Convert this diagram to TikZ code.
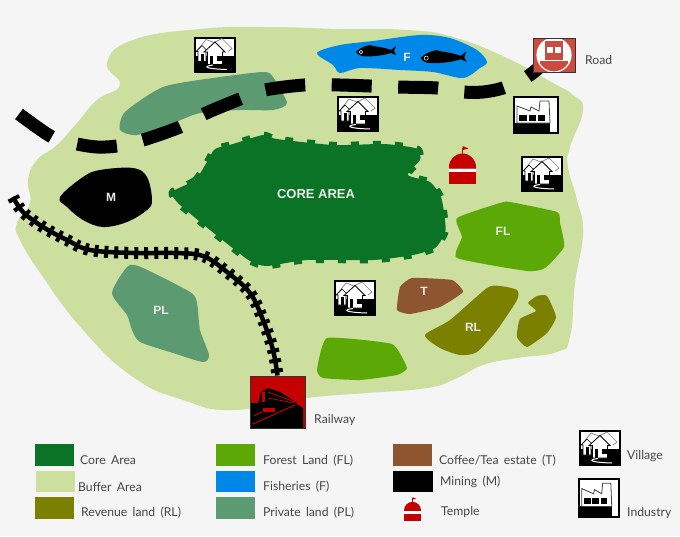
\documentclass[tikz,border=0pt]{standalone}
\usepackage{fontspec}
\setmainfont{Lato}[WordSpace=1.7]
\newfontfamily\mapfont{Liberation Sans}
\usepackage{tikz}
\usetikzlibrary{arrows.meta,positioning,shapes,calc}
\definecolor{paper}{RGB}{245,245,245}
\definecolor{corearea}{RGB}{11,115,37}
\definecolor{bufferarea}{RGB}{204,223,158}
\definecolor{privateland}{RGB}{92,155,113}
\definecolor{revenueland}{RGB}{124,128,0}
\definecolor{forestland}{RGB}{92,168,6}
\definecolor{fisheries}{RGB}{0,136,232}
\definecolor{teaestate}{RGB}{141,85,48}
\definecolor{templered}{RGB}{196,0,0}
\definecolor{busred}{RGB}{204,74,64}
\definecolor{legendtext}{RGB}{70,70,70}
\tikzset{
  villageicon/.pic={
    \fill[black] (-21,-18) rectangle (21,18);
    \fill[white] (-19,-16) rectangle (19,1);
    \draw[gray,line width=.7pt] (-17,-5) -- (-9,-15) -- (-1,-12) -- (7,-16) -- (17,-6) -- (13,-3);
    \filldraw[white,draw=black,line width=.7pt] (-19,-3) -- (-13,-9) -- (-7,-3) -- (-9,-3) -- (-9,7) -- (-17,7) -- (-17,-3) -- cycle;
    \fill[black] (-14.5,-1) rectangle (-11.5,7);
    \filldraw[white,draw=black,line width=.8pt] (-11,-2.5) -- (0,-12.5) -- (10,-2.5) -- (7.5,-2.5) -- (7.5,10) -- (-7.5,10) -- (-7.5,-2.5) -- cycle;
    \fill[black] (2,1) rectangle (6.5,6);
    \fill[black] (-5,1) rectangle (-2,10);
    \draw[white,line width=1pt] (-2,10.5) .. controls (-14,12) and (-8,14.5) .. (12,15);
  },
  industryicon/.pic={
    \fill[black] (-23,-19) rectangle (23,19);
    \fill[white] (-21,-17) rectangle (21,17);
    \fill[black] (-21,8) rectangle (14,17);
    \filldraw[white,draw=black!75,line width=.8pt] (-19,8) -- (-19,-9) -- (-6,-4) -- (-5,-8) -- (3,-4) -- (4,-14) -- (13,-14) -- (14,8) -- cycle;
    \fill[black] (-16.6,0) rectangle (-9,6);
    \fill[black] (-7.3,0) rectangle (0,6);
    \fill[black] (1.7,0) rectangle (9,6);
  },
  templeicon/.pic={
    \draw[templered,line width=1pt] (0,-12) -- (0,-20);
    \fill[templered] (0,-22) -- (6,-19.5) -- (0,-18) -- cycle;
    \fill[templered] (-13.5,0.5) -- (-13.5,-1) arc[start angle=180,end angle=360,x radius=13.5,y radius=13.5] -- (13.5,.5) -- cycle;
    \fill[white!85!paper] (-13.5,.5) rectangle (13.5,4);
    \fill[templered] (-13.5,4) rectangle (13.5,16);
  },
  fishicon/.pic={
    \fill[black] (-20,1) .. controls (-14,-5) and (-9,-5) .. (-6,-6) -- (-3,-5) .. controls (4,-4) and (10,-3) .. (15,-1) -- (20,-5) -- (18,0) -- (20,4) -- (15,2) .. controls (6,5) and (-8,6) .. (-14,5) .. controls (-17,4) and (-19,3) .. (-20,1) -- cycle;
    \draw[white,line width=.5pt] (-15,1) circle[radius=1.8];
  }
}
\begin{document}
\begin{tikzpicture}[x=1pt,y=-1pt,
    maparea/.style={line join=round},
    arealabel/.style={font=\mapfont\bfseries\fontsize{12}{14}\selectfont, text=white!92!black, inner sep=0pt},
    legendlabel/.style={anchor=west, font=\fontsize{12.2}{14}\selectfont, text=legendtext, inner sep=0pt},
    iconbox/.style={rectangle, draw=black!80, line width=1pt, inner sep=0pt},
    roadline/.style={line width=13pt, black, dash pattern=on 40pt off 26.5pt},
    railtrack/.style={black, line width=4.5pt, postaction={draw, line width=12pt, dash pattern=on 4pt off 6pt}}
  ]
  \useasboundingbox (0,0) rectangle (680,536);
  \fill[paper] (0,0) rectangle (680,536);

  % map areas
  \fill[bufferarea,maparea] plot[smooth cycle,tension=.8] coordinates {
    (107,63) (133,40) (200,29) (267,27) (340,29) (407,30) (453,37) (507,58) (553,83)
    (573,95) (583,110) (570,147) (568,167) (577,200) (583,233) (575,283) (570,337)
    (557,352) (517,358) (483,365) (457,378) (427,388) (367,393) (307,398) (233,410) (183,400)
    (133,377) (83,330) (43,277) (20,240) (17,223) (30,203) (28,180) (37,160) (57,145) (77,123)
    (97,100) (120,85)};
  \fill[privateland,maparea] plot[smooth cycle,tension=.4] coordinates {
    (120,130) (125,112) (163,87) (213,78) (263,72) (273,77) (287,103) (273,110) (240,110)
    (200,113) (173,123) (137,135)};
  \fill[black,maparea] plot[smooth cycle,tension=.6] coordinates {
    (60,197) (83,177) (100,170) (133,168) (147,177) (152,200) (147,210) (127,222) (103,227)
    (83,220) (67,207)};
  \fill[fisheries,maparea] plot[smooth cycle,tension=.5] coordinates {
    (317,53) (340,45) (373,41) (420,35) (450,38) (477,50) (487,62) (480,68) (463,78) (433,72)
    (400,70) (360,68) (340,73) (333,65)};
  \filldraw[corearea,line width=6.5pt,dash pattern=on 8pt off 14pt,maparea] plot[smooth cycle,tension=.4] coordinates {
    (172,192) (195,180) (207,162) (215,149) (233,144) (263,135) (277,139) (333,145) (383,144)
    (410,147) (419,150) (420,160) (408,175) (430,182) (441,197) (445,220) (445,233) (435,248)
    (413,255) (373,260) (307,260) (267,266) (250,261) (230,246) (210,230) (193,216) (178,203)};
  \fill[forestland,maparea] plot[smooth cycle,tension=.3] coordinates {
    (457,218) (500,203) (510,202) (557,212) (560,223) (564,247) (545,268) (527,271) (457,258) (462,237)};
  \fill[forestland,maparea] plot[smooth cycle,tension=.25] coordinates {
    (327,338) (392,344) (407,368) (397,375) (360,380) (323,378) (317,370)};
  \fill[teaestate,maparea] plot[smooth cycle,tension=.25] coordinates {
    (400,287) (412,278) (452,280) (463,292) (440,307) (410,314) (397,310)};
  \fill[revenueland,maparea] plot[smooth cycle,tension=.4] coordinates {
    (425,335) (450,320) (487,288) (500,286) (517,290) (517,300) (497,330) (477,352) (460,355) (440,348)};
  \fill[revenueland,maparea] plot[smooth cycle,tension=.3] coordinates {
    (528,303) (537,296) (547,296) (556,317) (547,333) (527,347) (517,337) (520,319) (536,311)};
  \fill[privateland,maparea] plot[smooth cycle,tension=.4] coordinates {
    (112,293) (128,266) (143,268) (190,292) (197,303) (200,330) (209,355) (203,362) (173,353)
    (140,342) (132,330) (127,315)};

  % road and railway
  \coordinate (roadstart) at (19,114);
  \coordinate (railstart) at (13,197);
  \node[iconbox, minimum width=42pt, minimum height=34pt, fill=busred] (roadicon) at (554,55) {};
  \node[iconbox, minimum width=55pt, minimum height=52pt, fill=templered] (trainicon) at (277.5,402) {};

  \draw[roadline] plot[smooth,tension=.5] coordinates {
    (roadstart) (52,137) (77,144) (97,147) (117,146) (143,140) (180,127) (204,114) (240,99) (265,90)
    (304,85) (340,85) (397,87) (437,88) (463,92) (483,92) (503,88) (527,77) (roadicon)};
  \draw[railtrack] plot[smooth,tension=.6] coordinates {
    (railstart) (23,212) (43,227) (67,240) (90,250) (133,253) (173,253) (203,256) (227,272)
    (250,293) (263,320) (273,350) (trainicon.north)};

  % bus
  \begin{scope}
    \clip (533.5,38.5) rectangle (574.5,71.5);
    \fill[busred] (533.5,38.5) rectangle (574.5,71.5);
    \fill[white] (554,55) circle[radius=17];
    \fill[busred] (533.5,63) rectangle (574.5,71.5);
    \draw[white,line width=1.2pt] (554,55) circle[radius=17];
  \end{scope}
  \node[iconbox, minimum width=42pt, minimum height=34pt] at (roadicon) {};
  \fill[busred] (545,41) rectangle (563,60);
  \fill[white] (547,47) rectangle (553,53);
  \fill[white] (555,47) rectangle (561,53);
  \fill[busred] (540,61) rectangle (568,63);

  % train
  \fill[black] (251,428) -- (251,403) -- (295,403) -- (303,408) -- (303,428) -- cycle;
  \fill[black] (258,404) -- (261,392) -- (268,388) -- (280,392) -- (297,403) -- cycle;
  \fill[templered] (262,392) rectangle (265,402);
  \draw[templered,line width=.8pt] (268,392) -- (295,402) (268,398) -- (294,403);
  \draw[templered,line width=1pt] (253,424) -- (295,405) (254,416) -- (262,412);
  \fill[templered] (263,408) rectangle (275,412);

  % icons
  \foreach \name/\px/\py in {villagea/215/54.5, villageb/358/114, villagec/542/174, villaged/355/298, villagekey/600/448}{
    \pic (\name) at (\px,\py) {villageicon};
  }
  \pic (industrymap) at (536,115) {industryicon};
  \pic[xscale=.91,yscale=1.05] (industrykey) at (599,498) {industryicon};
  \pic (templemap) at (462.5,168) {templeicon};
  \pic[scale=.63] (templekey) at (412.5,511) {templeicon};
  \pic (fisha) at (376,51) {fishicon};
  \pic[scale=1.15] (fishb) at (443.5,57) {fishicon};

  % labels on the map
  \node[arealabel,font=\mapfont\bfseries\fontsize{13}{15}\selectfont] (corelabel) at (316,194) {CORE AREA};
  \node[arealabel] (mlabel) at (111,197) {M};
  \node[arealabel] (flabel) at (407,57) {F};
  \node[arealabel] (fllabel) at (503,231) {FL};
  \node[arealabel] (pllabel) at (161,310) {PL};
  \node[arealabel] (tlabel) at (424,291) {T};
  \node[arealabel] (rllabel) at (473,327) {RL};
  \node[legendlabel] (roadlabel) at (585,60) {Road};
  \node[legendlabel] (raillabel) at (314,420) {Railway};

  % legend
  \fill[corearea] (35,444) rectangle (74,466);
  \fill[bufferarea] (36,471) rectangle (75,492);
  \fill[revenueland] (35,497) rectangle (74,519);
  \fill[forestland] (216,444) rectangle (255,466);
  \fill[fisheries] (216,471) rectangle (255,492);
  \fill[privateland] (216,497) rectangle (255,519);
  \fill[teaestate] (393,444) rectangle (432,466);
  \fill[black] (393,471) rectangle (433,492);
  \node[legendlabel] (corekey) at (80,460) {Core Area};
  \node[legendlabel] (bufferkey) at (78,487) {Buffer Area};
  \node[legendlabel] (revenuekey) at (81,513) {Revenue land (RL)};
  \node[legendlabel] (forestkey) at (263,461) {Forest Land (FL)};
  \node[legendlabel] (fisherykey) at (263,487) {Fisheries (F)};
  \node[legendlabel] (privatekey) at (263,513) {Private land (PL)};
  \node[legendlabel] (teakey) at (439,461) {Coffee/Tea estate (T)};
  \node[legendlabel] (miningkey) at (440,482) {Mining (M)};
  \node[legendlabel] (templelabel) at (441,512) {Temple};
  \node[legendlabel] (villagelabel) at (627,456) {Village};
  \node[legendlabel] (industrylabel) at (627,513) {Industry};
\end{tikzpicture}
\end{document}
